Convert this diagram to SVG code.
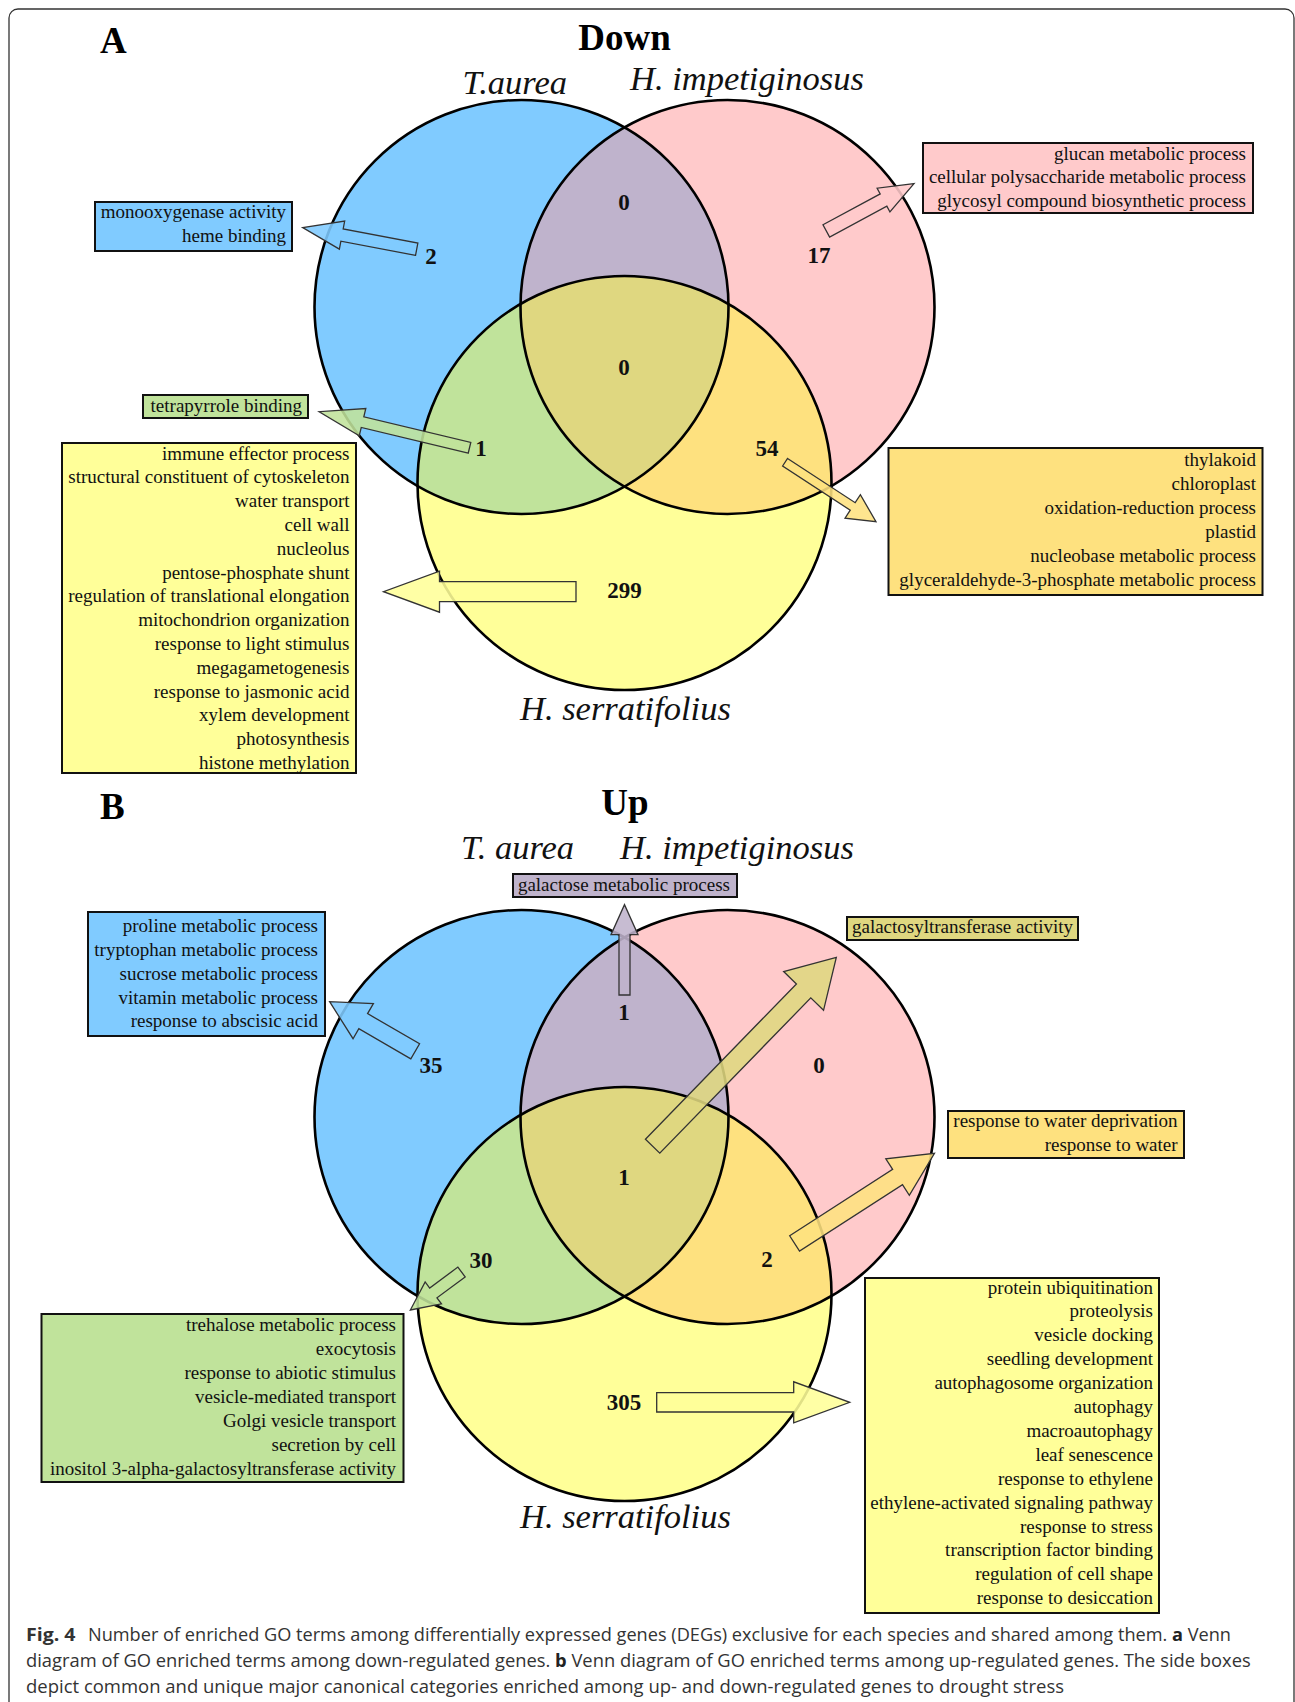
<svg xmlns="http://www.w3.org/2000/svg" width="1295" height="1702" viewBox="0 0 1295 1702">
<style>
.bx{stroke:#111;stroke-width:2}
.lbl{font-family:"Liberation Serif","Times New Roman",serif;font-size:19px;text-anchor:end;fill:#111}
.num{font-family:"Liberation Serif","Times New Roman",serif;font-weight:bold;font-size:23px;text-anchor:middle;fill:#111}
.sp{font-family:"Liberation Serif","Times New Roman",serif;font-style:italic;font-size:34.5px;fill:#111}
.ttl{font-family:"Liberation Serif","Times New Roman",serif;font-weight:bold;font-size:37px;fill:#000}
.arr{stroke:#333;stroke-width:1.3;fill-opacity:0.88}
.ring{fill:none;stroke:#000;stroke-width:2.6}
.cap{font-family:"Open Sans","Noto Sans",sans-serif;font-size:18px;fill:#333}
.blue{fill:#80cbff}.pink{fill:#ffcacb}.yel{fill:#ffff99}.pur{fill:#bfb3cc}.grn{fill:#c0e39b}.org{fill:#fee17f}.ctr{fill:#dfd780}
</style>
<defs>
<clipPath id="ab"><circle cx="521.5" cy="307" r="207"/></clipPath>
<clipPath id="ap"><circle cx="727.5" cy="307" r="207"/></clipPath>
<clipPath id="bb"><circle cx="521.5" cy="1117" r="207"/></clipPath>
<clipPath id="bp"><circle cx="727.5" cy="1117" r="207"/></clipPath>
</defs>
<rect x="9" y="9" width="1285" height="1760" rx="9" fill="#fff" stroke="#333" stroke-width="1.3"/>

<text class="ttl" x="100" y="53" font-size="36">A</text>
<text class="ttl" x="624.5" y="50" text-anchor="middle">Down</text>
<text class="sp" x="462.5" y="94">T.aurea</text>
<text class="sp" x="630" y="90">H. impetiginosus</text>
<text class="sp" x="520" y="720">H. serratifolius</text>

<g id="venn-a">
<circle class="blue" cx="521.5" cy="307" r="207"/>
<circle class="pink" cx="727.5" cy="307" r="207"/>
<circle class="yel" cx="624.5" cy="483" r="207"/>
<circle class="pur" cx="727.5" cy="307" r="207" clip-path="url(#ab)"/>
<circle class="grn" cx="624.5" cy="483" r="207" clip-path="url(#ab)"/>
<circle class="org" cx="624.5" cy="483" r="207" clip-path="url(#ap)"/>
<g clip-path="url(#ab)"><circle class="ctr" cx="624.5" cy="483" r="207" clip-path="url(#ap)"/></g>
<circle class="ring" cx="521.5" cy="307" r="207"/>
<circle class="ring" cx="727.5" cy="307" r="207"/>
<circle class="ring" cx="624.5" cy="483" r="207"/>
</g>

<text class="ttl" x="100" y="819" font-size="36">B</text>
<text class="ttl" x="625" y="815" text-anchor="middle">Up</text>
<text class="sp" x="461" y="859">T. aurea</text>
<text class="sp" x="620" y="859">H. impetiginosus</text>
<text class="sp" x="520" y="1528">H. serratifolius</text>

<g id="venn-b">
<circle class="blue" cx="521.5" cy="1117" r="207"/>
<circle class="pink" cx="727.5" cy="1117" r="207"/>
<circle class="yel" cx="624.5" cy="1294" r="207"/>
<circle class="pur" cx="727.5" cy="1117" r="207" clip-path="url(#bb)"/>
<circle class="grn" cx="624.5" cy="1294" r="207" clip-path="url(#bb)"/>
<circle class="org" cx="624.5" cy="1294" r="207" clip-path="url(#bp)"/>
<g clip-path="url(#bb)"><circle class="ctr" cx="624.5" cy="1294" r="207" clip-path="url(#bp)"/></g>
<circle class="ring" cx="521.5" cy="1117" r="207"/>
<circle class="ring" cx="727.5" cy="1117" r="207"/>
<circle class="ring" cx="624.5" cy="1294" r="207"/>
</g>

<g id="connectors">
<path class="arr blue" transform="translate(416.7,249.2) rotate(190.7)" d="M0,-6.2 L76,-6.2 L76,-14.3 L116,0 L76,14.3 L76,6.2 L0,6.2Z"/>
<path class="arr pink" transform="translate(826.3,230.9) rotate(-28.3)" d="M0,-7 L65,-7 L65,-13.5 L99.6,0 L65,13.5 L65,7 L0,7Z"/>
<path class="arr grn" transform="translate(469.5,447.8) rotate(193.5)" d="M0,-5.5 L110,-5.5 L110,-14 L154.6,0 L110,14 L110,5.5 L0,5.5Z"/>
<path class="arr yel" transform="translate(576,591.7) rotate(180)" d="M0,-10 L136.5,-10 L136.5,-20.5 L192.5,0 L136.5,20.5 L136.5,10 L0,10Z"/>
<path class="arr org" transform="translate(785.1,462.2) rotate(33.2)" d="M0,-4.5 L80.8,-4.5 L80.8,-14 L108.6,0 L80.8,14 L80.8,4.5 L0,4.5Z"/>
<path class="arr pur" transform="translate(624.5,995) rotate(-90)" d="M0,-5.5 L60.3,-5.5 L60.3,-13.5 L90.3,0 L60.3,13.5 L60.3,5.5 L0,5.5Z"/>
<path class="arr blue" transform="translate(415.2,1051.3) rotate(210.1)" d="M0,-8.7 L60.1,-8.7 L60.1,-20.3 L98.9,0 L60.1,20.3 L60.1,8.7 L0,8.7Z"/>
<path class="arr ctr" transform="translate(652.6,1146.2) rotate(-45.8)" d="M0,-10 L216.6,-10 L216.6,-27.8 L263.5,0 L216.6,27.8 L216.6,10 L0,10Z"/>
<path class="arr org" transform="translate(794.6,1243.4) rotate(-32.8)" d="M0,-9.1 L122.5,-9.1 L122.5,-21.7 L166.4,0 L122.5,21.7 L122.5,9.1 L0,9.1Z"/>
<path class="arr yel" transform="translate(656.7,1402.3)" d="M0,-9.7 L137,-9.7 L137,-20.5 L193,0 L137,20.5 L137,9.7 L0,9.7Z"/>
<path class="arr grn" transform="translate(461.5,1272) rotate(143.4)" d="M0,-6.1 L35.1,-6.1 L35.1,-13.7 L63.7,0 L35.1,13.7 L35.1,6.1 L0,6.1Z"/>
</g>

<g id="counts">
<text class="num" x="624" y="210">0</text>
<text class="num" x="431" y="264">2</text>
<text class="num" x="819" y="263">17</text>
<text class="num" x="624" y="375">0</text>
<text class="num" x="481" y="456">1</text>
<text class="num" x="767" y="456">54</text>
<text class="num" x="624.5" y="598">299</text>
<text class="num" x="624" y="1020">1</text>
<text class="num" x="431" y="1073">35</text>
<text class="num" x="819" y="1073">0</text>
<text class="num" x="624" y="1185">1</text>
<text class="num" x="481" y="1268">30</text>
<text class="num" x="767" y="1267">2</text>
<text class="num" x="624" y="1410">305</text>
</g>

<g id="box-a-blue">
<rect class="bx blue" x="95" y="202" width="197" height="49"/>
<text class="lbl"><tspan x="286" y="218">monooxygenase activity</tspan><tspan x="286" y="242">heme binding</tspan></text>
</g>
<g id="box-a-pink">
<rect class="bx pink" x="923" y="143" width="330" height="70"/>
<text class="lbl"><tspan x="1246" y="159.5">glucan metabolic process</tspan><tspan x="1246" y="183">cellular polysaccharide metabolic process</tspan><tspan x="1246" y="206.5">glycosyl compound biosynthetic process</tspan></text>
</g>
<g id="box-a-green">
<rect class="bx grn" x="143" y="395" width="165" height="23"/>
<text class="lbl" x="302" y="411.5">tetrapyrrole binding</text>
</g>
<g id="box-a-yellow">
<rect class="bx yel" x="62" y="443" width="294" height="330"/>
<text class="lbl"><tspan x="349.5" y="459.5">immune effector process</tspan><tspan x="349.5" y="483.3">structural constituent of cytoskeleton</tspan><tspan x="349.5" y="507.1">water transport</tspan><tspan x="349.5" y="530.9">cell wall</tspan><tspan x="349.5" y="554.7">nucleolus</tspan><tspan x="349.5" y="578.5">pentose-phosphate shunt</tspan><tspan x="349.5" y="602.3">regulation of translational elongation</tspan><tspan x="349.5" y="626.1">mitochondrion organization</tspan><tspan x="349.5" y="649.9">response to light stimulus</tspan><tspan x="349.5" y="673.7">megagametogenesis</tspan><tspan x="349.5" y="697.5">response to jasmonic acid</tspan><tspan x="349.5" y="721.3">xylem development</tspan><tspan x="349.5" y="745.1">photosynthesis</tspan><tspan x="349.5" y="768.9">histone methylation</tspan></text>
</g>
<g id="box-a-orange">
<rect class="bx org" x="888.5" y="448" width="374" height="147"/>
<text class="lbl"><tspan x="1256" y="466">thylakoid</tspan><tspan x="1256" y="490">chloroplast</tspan><tspan x="1256" y="514">oxidation-reduction process</tspan><tspan x="1256" y="538">plastid</tspan><tspan x="1256" y="562">nucleobase metabolic process</tspan><tspan x="1256" y="586">glyceraldehyde-3-phosphate metabolic process</tspan></text>
</g>

<g id="box-b-purple">
<rect class="bx pur" x="513" y="874" width="224" height="23"/>
<text class="lbl" x="730" y="891">galactose metabolic process</text>
</g>
<g id="box-b-blue">
<rect class="bx blue" x="88" y="912" width="237" height="124"/>
<text class="lbl"><tspan x="318" y="932">proline metabolic process</tspan><tspan x="318" y="956">tryptophan metabolic process</tspan><tspan x="318" y="980">sucrose metabolic process</tspan><tspan x="318" y="1003.5">vitamin metabolic process</tspan><tspan x="318" y="1027">response to abscisic acid</tspan></text>
</g>
<g id="box-b-center">
<rect class="bx ctr" x="847" y="917" width="231" height="23"/>
<text class="lbl" x="1073" y="933">galactosyltransferase activity</text>
</g>
<g id="box-b-orange">
<rect class="bx org" x="948" y="1111" width="236" height="47"/>
<text class="lbl"><tspan x="1177.6" y="1127">response to water deprivation</tspan><tspan x="1177.6" y="1151">response to water</tspan></text>
</g>
<g id="box-b-green">
<rect class="bx grn" x="41.5" y="1314" width="362" height="168"/>
<text class="lbl"><tspan x="396" y="1331">trehalose metabolic process</tspan><tspan x="396" y="1355">exocytosis</tspan><tspan x="396" y="1379">response to abiotic stimulus</tspan><tspan x="396" y="1403">vesicle-mediated transport</tspan><tspan x="396" y="1426.5">Golgi vesicle transport</tspan><tspan x="396" y="1450.5">secretion by cell</tspan><tspan x="396" y="1474.5">inositol 3-alpha-galactosyltransferase activity</tspan></text>
</g>
<g id="box-b-yellow">
<rect class="bx yel" x="865" y="1278" width="294" height="335"/>
<text class="lbl"><tspan x="1153" y="1293.5">protein ubiquitination</tspan><tspan x="1153" y="1317.4">proteolysis</tspan><tspan x="1153" y="1341.3">vesicle docking</tspan><tspan x="1153" y="1365.2">seedling development</tspan><tspan x="1153" y="1389.1">autophagosome organization</tspan><tspan x="1153" y="1413">autophagy</tspan><tspan x="1153" y="1436.9">macroautophagy</tspan><tspan x="1153" y="1460.8">leaf senescence</tspan><tspan x="1153" y="1484.7">response to ethylene</tspan><tspan x="1153" y="1508.6">ethylene-activated signaling pathway</tspan><tspan x="1153" y="1532.5">response to stress</tspan><tspan x="1153" y="1556.4">transcription factor binding</tspan><tspan x="1153" y="1580.3">regulation of cell shape</tspan><tspan x="1153" y="1604.2">response to desiccation</tspan></text>
</g>

<g id="caption">
<text class="cap" x="26" y="1641" font-weight="bold" fill="#222" textLength="49.5" lengthAdjust="spacingAndGlyphs">Fig. 4</text>
<text class="cap" x="88" y="1641" textLength="1143" lengthAdjust="spacingAndGlyphs">Number of enriched GO terms among differentially expressed genes (DEGs) exclusive for each species and shared among them. <tspan font-weight="bold" fill="#222">a</tspan> Venn</text>
<text class="cap" x="26" y="1667" textLength="1224.7" lengthAdjust="spacingAndGlyphs">diagram of GO enriched terms among down-regulated genes. <tspan font-weight="bold" fill="#222">b</tspan> Venn diagram of GO enriched terms among up-regulated genes. The side boxes</text>
<text class="cap" x="26" y="1693" textLength="1038" lengthAdjust="spacingAndGlyphs">depict common and unique major canonical categories enriched among up- and down-regulated genes to drought stress</text>
</g>
</svg>
